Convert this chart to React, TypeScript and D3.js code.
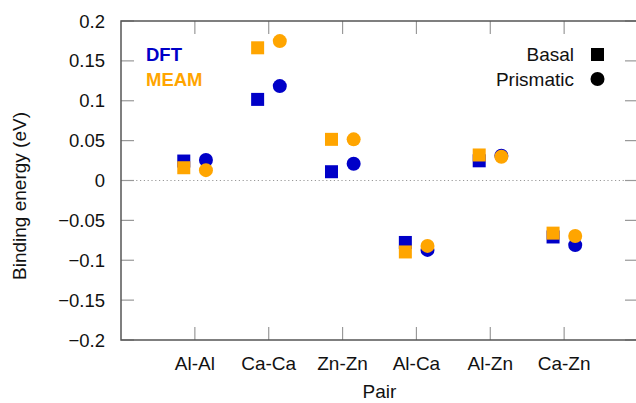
import React, { useEffect, useRef } from 'react';
import * as d3 from 'd3';

const pairs = ['Al-Al', 'Ca-Ca', 'Zn-Zn', 'Al-Ca', 'Al-Zn', 'Ca-Zn'];
const dftBasal = [0.0244, 0.1017, 0.011, -0.0777, 0.0247, -0.0708];
const dftPrismatic = [0.0257, 0.1184, 0.021, -0.087, 0.031, -0.081];
const meamBasal = [0.016, 0.1664, 0.0516, -0.0896, 0.032, -0.066];
const meamPrismatic = [0.013, 0.1748, 0.0516, -0.082, 0.0298, -0.0695];
const yTicks = [-0.2, -0.15, -0.1, -0.05, 0, 0.05, 0.1, 0.15, 0.2];

const BLUE = '#0000c8';
const ORANGE = '#ffa500';
const FONT = '"Liberation Sans", Arial, Helvetica, sans-serif';

const App = () => {
  const svgRef = useRef<SVGSVGElement>(null);

  useEffect(() => {
    const svg = d3.select(svgRef.current);
    svg.selectAll('*').remove();

    const left = 121, right = 638, top = 21, bottom = 340;
    const x = d3.scaleLinear().domain([0, pairs.length + 1]).range([left, right]);
    const y = d3.scaleLinear().domain([-0.2, 0.2]).range([bottom, top]);

    const fmt = (v: number) => (v === 0 ? '0' : (v < 0 ? '\u2212' : '') + Math.abs(v).toString());

    // zero line
    svg.append('line')
      .attr('x1', left).attr('x2', right)
      .attr('y1', y(0)).attr('y2', y(0))
      .attr('stroke', '#999').attr('stroke-width', 1)
      .attr('stroke-dasharray', '1.2,2.6');

    // ticks (inward, all four sides)
    const tk = 13;
    yTicks.forEach(v => {
      svg.append('line').attr('x1', left).attr('x2', left + tk)
        .attr('y1', y(v)).attr('y2', y(v)).attr('stroke', '#999').attr('stroke-width', 1.2);
      svg.append('line').attr('x1', right).attr('x2', right - tk)
        .attr('y1', y(v)).attr('y2', y(v)).attr('stroke', '#999').attr('stroke-width', 1.2);
      svg.append('text')
        .attr('x', left - 16).attr('y', y(v) + 6.5)
        .attr('text-anchor', 'end')
        .style('font-family', FONT).style('font-size', '18.5px').attr('fill', '#111')
        .text(fmt(v));
    });
    pairs.forEach((p, i) => {
      const cx = x(i + 1);
      svg.append('line').attr('x1', cx).attr('x2', cx)
        .attr('y1', top).attr('y2', top + tk).attr('stroke', '#999').attr('stroke-width', 1.2);
      svg.append('line').attr('x1', cx).attr('x2', cx)
        .attr('y1', bottom).attr('y2', bottom - tk).attr('stroke', '#999').attr('stroke-width', 1.2);
      svg.append('text')
        .attr('x', cx).attr('y', 369.5)
        .attr('text-anchor', 'middle')
        .style('font-family', FONT).style('font-size', '19px').attr('fill', '#111')
        .text(p);
    });

    // frame
    svg.append('rect')
      .attr('x', left).attr('y', top)
      .attr('width', right - left).attr('height', bottom - top)
      .attr('fill', 'none').attr('stroke', '#555').attr('stroke-width', 1.5);

    // markers
    const sq = 13, r = 7, off = 0.15;
    const drawSquares = (vals: number[], color: string) => {
      svg.append('g').selectAll('rect').data(vals).enter().append('rect')
        .attr('x', (d, i) => x(i + 1 - off) - sq / 2)
        .attr('y', d => y(d) - sq / 2)
        .attr('width', sq).attr('height', sq)
        .attr('fill', color);
    };
    const drawCircles = (vals: number[], color: string) => {
      svg.append('g').selectAll('circle').data(vals).enter().append('circle')
        .attr('cx', (d, i) => x(i + 1 + off))
        .attr('cy', d => y(d))
        .attr('r', r)
        .attr('fill', color);
    };
    drawSquares(dftBasal, BLUE);
    drawCircles(dftPrismatic, BLUE);
    drawSquares(meamBasal, ORANGE);
    drawCircles(meamPrismatic, ORANGE);

    // method legend
    svg.append('text').attr('x', 146).attr('y', 61)
      .style('font-family', FONT).style('font-size', '18.5px').style('font-weight', 'bold')
      .attr('fill', BLUE).text('DFT');
    svg.append('text').attr('x', 146).attr('y', 86)
      .style('font-family', FONT).style('font-size', '18.5px').style('font-weight', 'bold')
      .attr('fill', ORANGE).text('MEAM');

    // shape legend
    svg.append('text').attr('x', 574).attr('y', 61).attr('text-anchor', 'end')
      .style('font-family', FONT).style('font-size', '19px').attr('fill', '#111').text('Basal');
    svg.append('rect').attr('x', 597.5 - sq / 2).attr('y', 54.5 - sq / 2)
      .attr('width', sq).attr('height', sq).attr('fill', '#000');
    svg.append('text').attr('x', 574).attr('y', 86).attr('text-anchor', 'end')
      .style('font-family', FONT).style('font-size', '19px').attr('fill', '#111').text('Prismatic');
    svg.append('circle').attr('cx', 597.5).attr('cy', 79).attr('r', r).attr('fill', '#000');

    // axis titles
    svg.append('text')
      .attr('transform', `translate(26,${196}) rotate(-90)`)
      .attr('text-anchor', 'middle')
      .style('font-family', FONT).style('font-size', '19px').attr('fill', '#111')
      .text('Binding energy (eV)');
    svg.append('text')
      .attr('x', (left + right) / 2).attr('y', 398)
      .attr('text-anchor', 'middle')
      .style('font-family', FONT).style('font-size', '19px').attr('fill', '#111')
      .text('Pair');
  }, []);

  return (
    <svg ref={svgRef} width={636} height={403}
      style={{ position: 'absolute', left: 0, top: 0, background: '#fff' }} />
  );
};

export default App;
